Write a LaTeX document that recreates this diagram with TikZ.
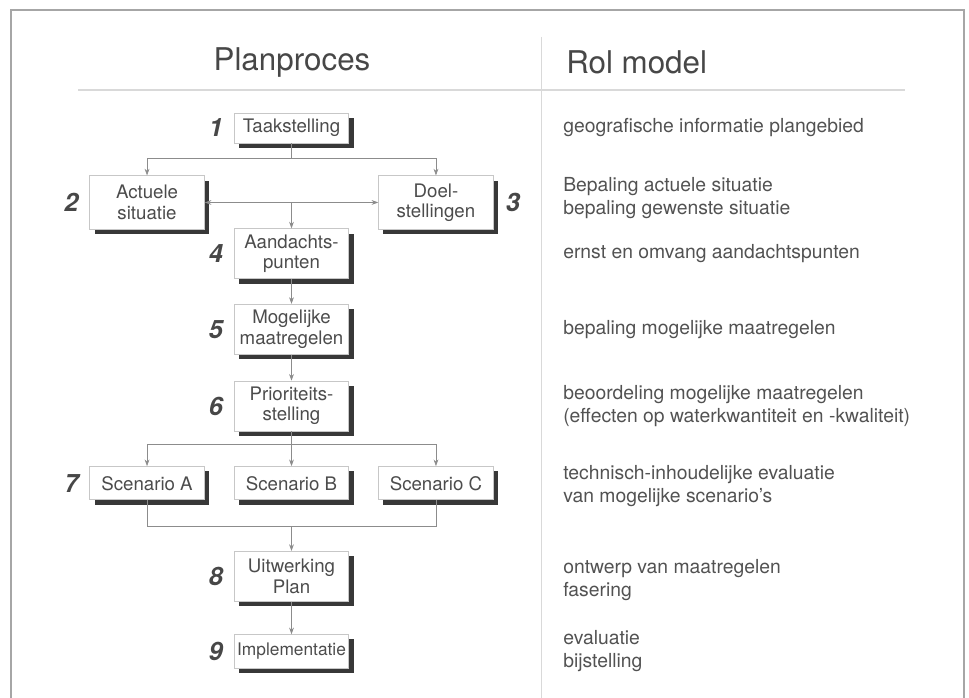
\documentclass[tikz,border=0pt]{standalone}
\usepackage{fontspec}
\setmainfont{TeX Gyre Heros}
\usetikzlibrary{arrows.meta, positioning, shadows}

\begin{document}
\begin{tikzpicture}[x=0.75pt, y=-0.75pt, >={Stealth[length=5pt, width=3.6pt]}]
        \tikzstyle{stap} = [rectangle, draw=black!22, line width=0.6pt, fill=white, text=black!70, align=center, font=\fontsize{14}{15.2}\selectfont, minimum width=86pt, minimum height=37.5pt, inner sep=2pt, drop shadow={shadow xshift=3.6pt, shadow yshift=-3.6pt, fill=black!78, opacity=1}]
        \tikzstyle{nummer} = [font=\fontsize{19}{19}\selectfont\bfseries\itshape, text=black!72, inner sep=0pt]
        \tikzstyle{rol} = [anchor=west, align=left, text=black!68, font=\fontsize{14.5}{17.25}\selectfont, inner sep=0pt]
        \tikzstyle{kop} = [text=black!72, font=\fontsize{23.5}{26}\selectfont, inner sep=0pt]
        \tikzstyle{lijn} = [draw=black!45, line width=0.5pt]

        \useasboundingbox (0,0) rectangle (969,698);
        \draw [black!35, line width=1pt] (11,698) -- (11,10) -- (964,10) -- (964,698);
        \draw [black!15, line width=0.8pt] (78,90) -- (905,90);
        \draw [black!15, line width=0.6pt] (541,37) -- (541,698);

        \node (planproces) [kop] at (292,62) {Planproces};
        \node (rolmodel) [kop, anchor=west] at (566,62) {Rol model};

        \node (taakstelling) [stap, minimum height=22.5pt] at (291.5,128) {Taakstelling};
        \node (actueel) [stap, minimum height=40pt, below left=24pt and 21.75pt of taakstelling] {Actuele\\situatie};
        \node (doelen) [stap, minimum height=40pt, below right=24pt and 21.75pt of taakstelling] {Doel-\\stellingen};
        \node (aandacht) [stap, below=63.75pt of taakstelling] {Aandachts-\\punten};
        \node (mogelijk) [stap, below=18.5pt of aandacht] {Mogelijke\\maatregelen};
        \node (prioriteit) [stap, below=19.5pt of mogelijk] {Prioriteits-\\stelling};
        \node (scenariob) [stap, minimum height=25pt, below=26pt of prioriteit] {Scenario B};
        \node (scenarioa) [stap, minimum height=25pt, left=21.75pt of scenariob] {Scenario A};
        \node (scenarioc) [stap, minimum height=25pt, right=21.75pt of scenariob] {Scenario C};
        \node (uitwerking) [stap, below=38pt of scenariob] {Uitwerking\\Plan};
        \node (implementatie) [stap, minimum height=25pt, below=24.4pt of uitwerking, font=\fontsize{13}{15}\selectfont] {Implementatie};

        \node (nr1) [nummer, left=8pt of taakstelling] {1};
        \node (nr2) [nummer, left=8pt of actueel] {2};
        \node (nr3) [nummer, right=9pt of doelen] {3};
        \node (nr4) [nummer, left=8pt of aandacht] {4};
        \node (nr5) [nummer, left=8pt of mogelijk] {5};
        \node (nr6) [nummer, left=8pt of prioriteit] {6};
        \node (nr7) [nummer, left=8pt of scenarioa] {7};
        \node (nr8) [nummer, left=8pt of uitwerking] {8};
        \node (nr9) [nummer, left=8pt of implementatie] {9};

        \coordinate (kolom) at (563,0);
        \node (rol1) [rol] at (taakstelling -| kolom) {geografische informatie plangebied};
        \node (rol2) [rol, yshift=3.5pt] at (actueel -| kolom) {Bepaling actuele situatie\\bepaling gewenste situatie};
        \node (rol3) [rol] at (aandacht -| kolom) {ernst en omvang aandachtspunten};
        \node (rol4) [rol] at (mogelijk -| kolom) {bepaling mogelijke maatregelen};
        \node (rol5) [rol] at (prioriteit -| kolom) {beoordeling mogelijke maatregelen\\(effecten op waterkwantiteit en -kwaliteit)};
        \node (rol6) [rol, yshift=-2pt] at (scenariob -| kolom) {technisch-inhoudelijke evaluatie\\van mogelijke scenario's};
        \node (rol7) [rol, yshift=-3pt] at (uitwerking -| kolom) {ontwerp van maatregelen\\fasering};
        \node (rol8) [rol] at (implementatie -| kolom) {evaluatie\\bijstelling};

        \draw [lijn] (taakstelling.south) -- ++(0,15) coordinate (splitsing);
        \draw [lijn, ->] (splitsing) -| (actueel.north);
        \draw [lijn, ->] (splitsing) -| (doelen.north);
        \draw [lijn, <->] (actueel) -- (doelen);
        \draw [lijn, ->] (actueel -| aandacht) -- (aandacht);
        \draw [lijn, ->] (aandacht) -- (mogelijk);
        \draw [lijn, ->] (mogelijk) -- (prioriteit);
        \draw [lijn] (prioriteit.south) -- ++(0,12.5) coordinate (splitsing2);
        \draw [lijn, ->] (splitsing2) -| (scenarioa.north);
        \draw [lijn, ->] (splitsing2) -- (scenariob);
        \draw [lijn, ->] (splitsing2) -| (scenarioc.north);
        \draw [lijn] (scenarioa.south) -- ++(0,26) coordinate (samen) -| (scenarioc.south);
        \draw [lijn, ->] (samen -| uitwerking) -- (uitwerking);
        \draw [lijn, ->] (uitwerking) -- (implementatie);
\end{tikzpicture}
\end{document}
